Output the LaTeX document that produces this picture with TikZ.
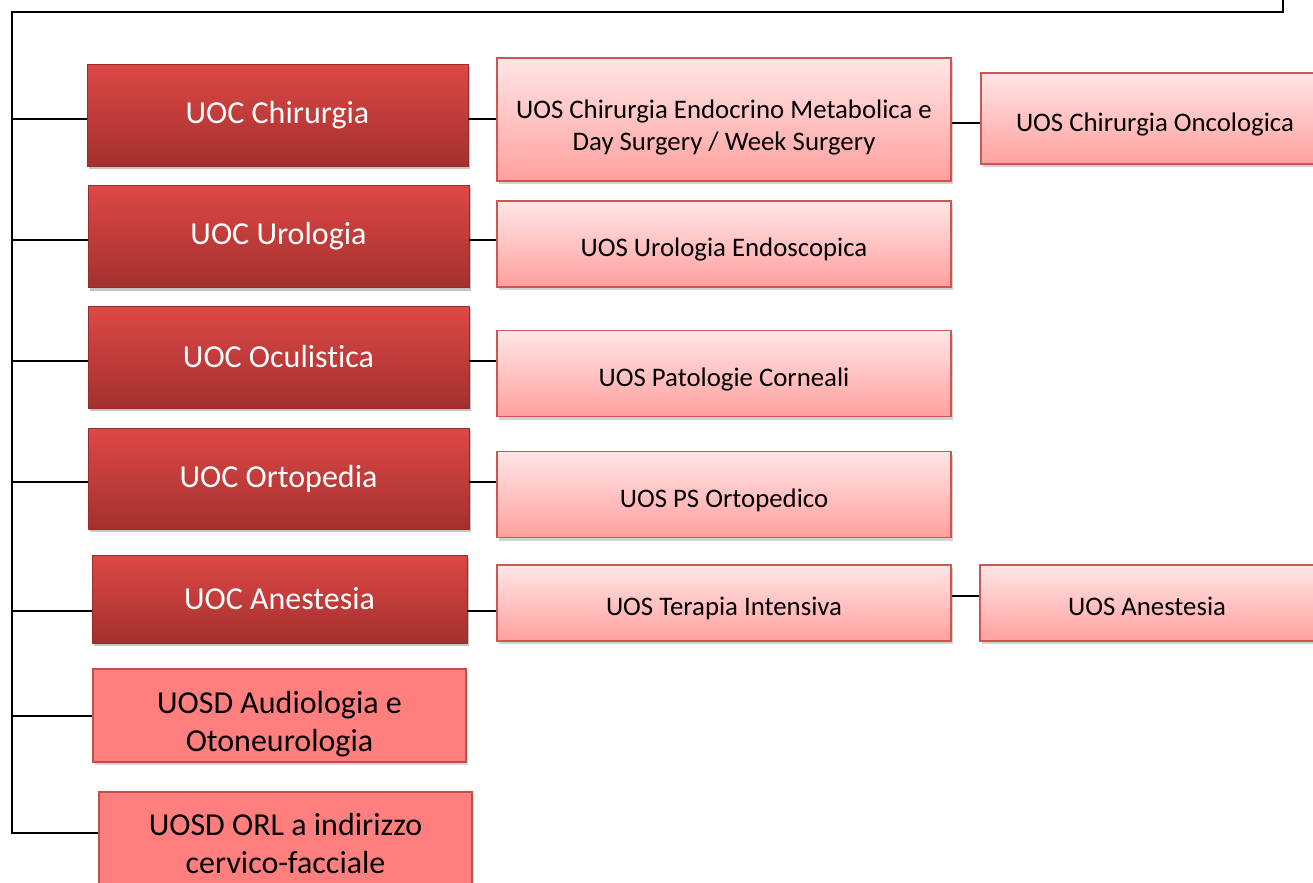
\documentclass[tikz,border=0pt]{standalone}
\usepackage{fontspec}
\setmainfont{Carlito}[Ligatures=NoCommon]
\usepackage{tikz}
\usetikzlibrary{shadows}
\definecolor {uoctop}  {RGB}{221, 72, 70}
\definecolor {uocbot}  {RGB}{163, 48, 46}
\definecolor {uocline} {RGB}{150, 45, 43}
\definecolor {uostop}  {RGB}{255, 230, 230}
\definecolor {uosbot}  {RGB}{255, 160, 158}
\definecolor {uosline} {RGB}{205, 85, 82}
\definecolor {uosdfill}{RGB}{255, 127, 127}
\definecolor {uosdline}{RGB}{192, 80, 77}

\tikzset{
	link/.style={line width=1pt, black},
	uoc/.style={rectangle, draw=uocline, line width=0.4pt, top color=uoctop, bottom color=uocbot,
		text=white, font=\fontsize{16}{19}\selectfont, align=center, inner sep=0pt,
		minimum width=190.5pt, minimum height=51pt,
		drop shadow={shadow xshift=1pt, shadow yshift=-1.5pt, fill=black!45}},
	uosd/.style={rectangle, draw=uosdline, line width=0.8pt, fill=uosdfill,
		font=\fontsize{16}{19}\selectfont, align=center, inner sep=0pt,
		minimum width=186.5pt, minimum height=46.5pt,
		drop shadow={shadow xshift=1pt, shadow yshift=-1.5pt, fill=black!30}},
	uos/.style={rectangle, draw=uosline, line width=0.8pt, top color=uostop, bottom color=uosbot,
		font=\fontsize{13.4}{16}\selectfont, align=center, inner sep=0pt,
		minimum width=227pt, minimum height=43pt,
		drop shadow={shadow xshift=1pt, shadow yshift=-1.5pt, fill=black!35}},
	lowtext/.style={text height=12.8pt, text depth=0pt}
}

\begin{document}
\begin{tikzpicture}[x=0.5pt, y=-0.5pt]

	\useasboundingbox (0, 0) rectangle (1313, 883);
	\clip (0, 0) rectangle (1313, 883);

	% UOC and UOSD column
	\node[uoc] (chir)  at (277.5, 115.5) {UOC Chirurgia};
	\node[uoc] (uro)   at (278.5, 236.5) {UOC Urologia};
	\node[uoc] (ocu)   at (278.5, 357)   {UOC Oculistica};
	\node[uoc, minimum height=50.5pt] (orto) at (278.5, 478.5) {UOC Ortopedia};
	\node[uoc, minimum width=187.5pt, minimum height=44pt] (anest) at (279.5, 599) {UOC Anestesia};
	\node[uosd] (audio) at (279.5, 715.5) {\rule{0pt}{19.5pt}UOSD Audiologia e\\Otoneurologia};
	\node[uosd, minimum height=52pt] (orl) at (285.5, 844) {UOSD ORL a indirizzo\\cervico-facciale};

	% UOS boxes
	\node[uos, minimum height=61.5pt] (endo) at (724, 119.5) {\rule{0pt}{17.5pt}UOS Chirurgia Endocrino Metabolica e\\Day Surgery / Week Surgery};
	\node[uos, lowtext, minimum width=174pt, minimum height=45.5pt] (onco) at (1155, 118.5) {UOS Chirurgia Oncologica};
	\node[uos, lowtext] (uroend)  at (724, 244)   {UOS Urologia Endoscopica};
	\node[uos, lowtext] (pato)    at (724, 373.5) {UOS Patologie Corneali};
	\node[uos, lowtext] (psorto)  at (724, 494.5) {UOS PS Ortopedico};
	\node[uos, lowtext, minimum height=38pt] (terapia) at (724, 603) {UOS Terapia Intensiva};
	\node[uos, lowtext, minimum width=167pt, minimum height=38pt] (anes) at (1147, 603) {UOS Anestesia};

	% Spine
	\coordinate (topright) at (1283, 0);
	\coordinate (spine) at (12, 12);
	\draw[link] (topright) |- (spine) |- ([yshift=5.5pt]orl.west);

	\foreach \n in {chir, uro, ocu, orto}
		\draw[link] ([yshift=-1.75pt]spine |- \n.west) -- ([yshift=-1.75pt]\n.west);
	\draw[link] ([yshift=-6pt]spine |- anest.west) -- ([yshift=-6pt]anest.west);
	\draw[link] (spine |- audio.west) -- (audio.west);

	% UOC to UOS
	\draw[link] ([yshift=-1.75pt]chir.east) -- ([yshift=-1.75pt]chir.east -| endo.west);
	\draw[link] ([yshift=-1.75pt]endo.east) -- ([yshift=-1.75pt]endo.east -| onco.west);
	\draw[link] ([yshift=-1.75pt]uro.east)  -- ([yshift=-1.75pt]uro.east -| uroend.west);
	\draw[link] ([yshift=-1.75pt]ocu.east)  -- ([yshift=-1.75pt]ocu.east -| pato.west);
	\draw[link] ([yshift=-1.75pt]orto.east) -- ([yshift=-1.75pt]orto.east -| psorto.west);
	\draw[link] ([yshift=-6pt]anest.east)   -- ([yshift=-6pt]anest.east -| terapia.west);
	\draw[link] ([yshift=3.5pt]terapia.east) -- ([yshift=3.5pt]terapia.east -| anes.west);

\end{tikzpicture}
\end{document}
